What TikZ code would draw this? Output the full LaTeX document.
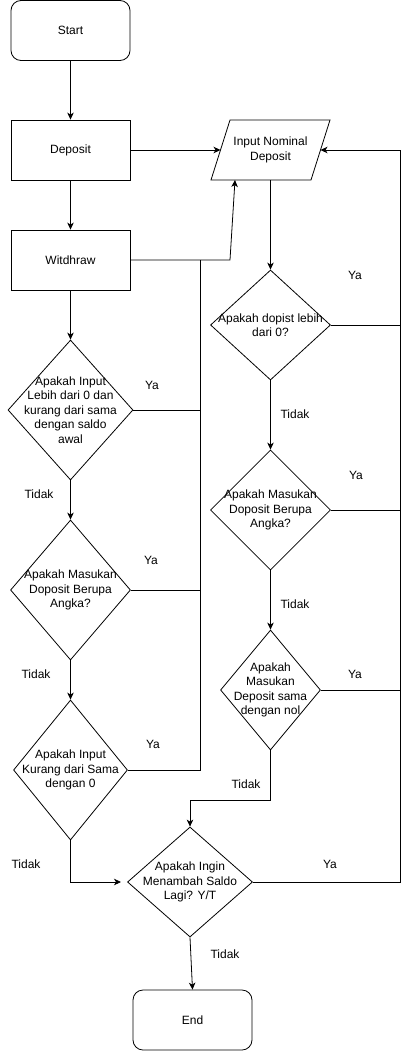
\documentclass[tikz,border=0pt]{standalone}
\usepackage{fontspec}
\setmainfont{Liberation Sans}
\usetikzlibrary{shapes.geometric,arrows.meta,calc}
\begin{document}
\begin{tikzpicture}[x=1pt,y=-1pt,
  every node/.style={font=\fontsize{12}{14.5}\selectfont},
  base/.style={draw=black, line width=0.8pt, inner sep=0pt},
  term/.style={base, rectangle, rounded corners=10pt, minimum width=119pt, minimum height=60pt},
  proc/.style={base, rectangle, minimum width=119pt, minimum height=60pt},
  dia/.style={base, diamond},
  txt/.style={align=center, inner sep=0pt},
  lab/.style={inner sep=0pt},
  conn/.style={line width=0.8pt, -{Stealth[length=7pt,width=6.5pt,inset=2pt]}},
  line/.style={line width=0.8pt}
]
\useasboundingbox (0,0) rectangle (410,1052);

% left column
\node[term] (start) at (70.5,30.5) {Start};
\node[proc] (dep) at (70.5,150) {Deposit};
\node[proc] (wd) at (70.5,260) {Witdhraw};
\node[dia, minimum width=125pt, minimum height=140pt] (d1) at (70.5,410) {};
\node[txt] (d1t) at (d1) {Apakah Input\\Lebih dari 0 dan\\kurang dari sama\\dengan saldo\\awal};
\node[dia, minimum width=120pt, minimum height=140pt] (d2) at (70.5,590) {};
\node[txt] (d2t) at (d2) {Apakah Masukan\\Doposit Berupa\\Angka?};
\node[dia, minimum width=114pt, minimum height=140pt] (d3) at (70.5,770) {};
\node[txt] (d3t) at (d3) {Apakah Input\\Kurang dari Sama\\dengan 0};

% input parallelogram
\coordinate (ptl) at (230,120);
\coordinate (ptr) at (330,120);
\coordinate (pbr) at (311,180);
\coordinate (pbl) at (211,180);
\draw[line] (ptl) -- (ptr) -- (pbr) -- (pbl) -- cycle;
\node[txt] (in) at (270.5,150) {Input Nominal\\Deposit};
\coordinate (inw) at (220.5,150);
\coordinate (ine) at (320.5,150);
\coordinate (ins) at (270.5,180);
\coordinate (insw) at (235,180);

% right column
\node[dia, minimum width=120pt, minimum height=110pt] (r1) at (270.5,325) {};
\node[txt] (r1t) at (r1) {Apakah dopist lebih\\dari 0?};
\node[dia, minimum width=120pt, minimum height=120pt] (r2) at (270.5,510) {};
\node[txt] (r2t) at (r2) {Apakah Masukan\\Doposit Berupa\\Angka?};
\node[dia, minimum width=100pt, minimum height=120pt] (r3) at (270.5,690) {};
\node[txt] (r3t) at (r3) {Apakah\\Masukan\\Deposit sama\\dengan nol};

% bottom
\node[dia, minimum width=125pt, minimum height=110pt] (f) at (190,882) {};
\node[txt] (ft) at (f) {Apakah Ingin\\Menambah Saldo\\Lagi? Y/T};
\node[term] (end) at (192.5,1020) {End};

% junction coordinates
\coordinate (jl) at (200,260);
\coordinate (jr) at (400,150);
\coordinate (bend) at (230,260);
\coordinate (d3in) at (121,882);

% main arrows
\draw[conn] (start) -- (dep);
\draw[conn] (dep) -- (wd);
\draw[conn] (wd) -- (d1);
\draw[conn] (d1) -- (d2);
\draw[conn] (d2) -- (d3);
\draw[conn] (dep) -- (inw);
\draw[conn] (wd.east) -- (bend) -- (insw);
\draw[conn] (ins) -- (r1);
\draw[conn] (r1) -- (r2);
\draw[conn] (r2) -- (r3);
\draw[conn] (r3.south) -- ++(0,50) -| (f.north);
\draw[conn] (d3.south) |- (d3in);
\draw[conn] (f.south) -- (end.north);

% Ya collectors left
\draw[line] (d1.east) -- (d1.east -| jl);
\draw[line] (d2.east) -- (d2.east -| jl);
\draw[line] (d3.east) -- (d3.east -| jl) -- (jl);

% Ya collectors right
\draw[conn] (f.east) -| (jr) -- (ine);
\draw[line] (r1.east) -- (r1.east -| jr);
\draw[line] (r2.east) -- (r2.east -| jr);
\draw[line] (r3.east) -- (r3.east -| jr);

% labels
\node[lab] (y1) at (152,385) {Ya};
\node[lab] (t1) at (39,494) {Tidak};
\node[lab] (y2) at (151,560) {Ya};
\node[lab] (t2) at (36,674) {Tidak};
\node[lab] (y3) at (153,744) {Ya};
\node[lab] (t3) at (26,864) {Tidak};
\node[lab] (yr1) at (355,275) {Ya};
\node[lab] (tr1) at (295,414) {Tidak};
\node[lab] (yr2) at (356,475) {Ya};
\node[lab] (tr2) at (295,604) {Tidak};
\node[lab] (yr3) at (355,674) {Ya};
\node[lab] (tr3) at (246,784) {Tidak};
\node[lab] (yf) at (330,864) {Ya};
\node[lab] (tf) at (225,954) {Tidak};
\end{tikzpicture}
\end{document}
